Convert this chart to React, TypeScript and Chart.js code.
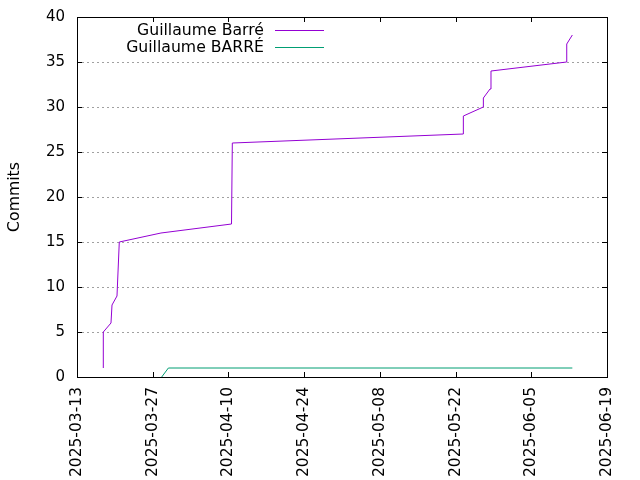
import { Chart, registerables } from "chart.js";
import { useEffect, useRef } from "react";
Chart.register(...registerables);

// commit timeline
const barreDates = [
  "2025-03-17T20:40", "2025-03-17T20:45", "2025-03-19T06:50", "2025-03-19T11:20",
  "2025-03-20T09:30", "2025-03-20T19:40", "2025-03-28T12:45", "2025-04-10T13:40",
  "2025-04-10T17:15", "2025-05-23T10:20", "2025-05-23T10:30", "2025-05-27T03:10",
  "2025-05-27T03:20", "2025-05-28T08:50", "2025-05-28T13:10", "2025-06-11T13:10",
  "2025-06-11T13:20", "2025-06-12T14:10",
];
const barreCommits = [1, 5, 6, 8, 9, 15, 16, 17, 26, 27, 29, 30, 31, 32, 34, 35, 37, 38];

const barreUpperDates = ["2025-03-28T15:50", "2025-03-29T21:30", "2025-06-12T14:10"];
const barreUpperCommits = [0, 1, 1];

const seriesLabels = ["Guillaume Barré", "Guillaume BARRÉ"];
const seriesColors = ["#9400d3", "#009e73"];

const xStart = "2025-03-13";
const xEnd = "2025-06-19";
const xStepDays = 14;
const yMax = 40;
const yStep = 5;

const FONT = "DejaVu Sans";
const toMs = (s: string) => new Date(s + "Z").getTime();
const fmtDate = (v: number) => new Date(v).toISOString().slice(0, 10);

const toPoints = (dates: string[], vals: number[]) =>
  dates.map((d, i) => ({ x: toMs(d), y: vals[i] }));

// gnuplot-like frame: black border, inward ticks on all four sides
const framePlugin = {
  id: "frame",
  afterDraw(chart: any) {
    const { ctx, chartArea: a, scales } = chart;
    const len = 5;
    ctx.save();
    ctx.strokeStyle = "#000";
    ctx.lineWidth = 1;
    ctx.beginPath();
    scales.x.ticks.forEach((t: any) => {
      const px = Math.round(scales.x.getPixelForValue(t.value)) + 0.5;
      ctx.moveTo(px, a.bottom);
      ctx.lineTo(px, a.bottom - len);
      ctx.moveTo(px, a.top);
      ctx.lineTo(px, a.top + len);
    });
    scales.y.ticks.forEach((t: any) => {
      const py = Math.round(scales.y.getPixelForValue(t.value)) + 0.5;
      ctx.moveTo(a.left, py);
      ctx.lineTo(a.left + len, py);
      ctx.moveTo(a.right, py);
      ctx.lineTo(a.right - len, py);
    });
    ctx.stroke();
    ctx.strokeRect(Math.round(a.left) + 0.5, Math.round(a.top) + 0.5,
      Math.round(a.right - a.left), Math.round(a.bottom - a.top));
    ctx.restore();
  },
};

// key in the top-left: text right aligned, then a line sample
const keyPlugin = {
  id: "key",
  afterDraw(chart: any) {
    const { ctx } = chart;
    ctx.save();
    ctx.font = `15.7px "${FONT}"`;
    ctx.textAlign = "right";
    ctx.textBaseline = "middle";
    chart.data.datasets.forEach((ds: any, i: number) => {
      const y = 30 + i * 17;
      ctx.fillStyle = "#000";
      ctx.fillText(ds.label, 264, y + 1);
      ctx.strokeStyle = ds.borderColor;
      ctx.lineWidth = 1;
      ctx.beginPath();
      ctx.moveTo(275, Math.round(y) + 0.5);
      ctx.lineTo(324, Math.round(y) + 0.5);
      ctx.stroke();
    });
    ctx.restore();
  },
};

function CommitsChart() {
  const chartRef = useRef<HTMLCanvasElement | null>(null);
  const chartInstance = useRef<Chart | null>(null);

  useEffect(() => {
    const ctx = chartRef.current?.getContext("2d");
    if (chartInstance.current) {
      chartInstance.current.destroy();
    }
    if (ctx) {
      chartInstance.current = new Chart(ctx, {
        type: "line",
        data: {
          datasets: [
            {
              label: seriesLabels[0],
              data: toPoints(barreDates, barreCommits),
              borderColor: seriesColors[0],
              borderWidth: 1,
              pointRadius: 0,
              tension: 0,
            },
            {
              label: seriesLabels[1],
              data: toPoints(barreUpperDates, barreUpperCommits),
              borderColor: seriesColors[1],
              borderWidth: 1,
              pointRadius: 0,
              tension: 0,
            },
          ],
        },
        options: {
          responsive: false,
          animation: false,
          layout: { padding: { left: 0, top: 17, right: 33, bottom: 0 } },
          plugins: {
            legend: { display: false },
            tooltip: { enabled: false },
          },
          scales: {
            x: {
              type: "linear",
              min: toMs(xStart),
              max: toMs(xEnd),
              afterBuildTicks: (scale: any) => {
                const ticks = [];
                for (let v = toMs(xStart); v <= toMs(xEnd); v += xStepDays * 86400000) {
                  ticks.push({ value: v });
                }
                scale.ticks = ticks;
              },
              afterFit: (scale: any) => {
                scale.height = 103;
                scale.paddingLeft = 0;
                scale.paddingRight = 0;
              },
              grid: { display: false, drawTicks: false },
              border: { display: false },
              ticks: {
                minRotation: 90,
                maxRotation: 90,
                padding: 10,
                color: "#000",
                font: { family: FONT, size: 15.5 },
                callback: (v: any) => fmtDate(Number(v)),
              },
            },
            y: {
              min: 0,
              max: yMax,
              afterFit: (scale: any) => {
                scale.width = 77;
                scale.paddingTop = 0;
                scale.paddingBottom = 0;
              },
              grid: {
                color: "#a0a0a0",
                drawTicks: false,
                tickBorderDash: [2, 3],
              },
              border: { display: false, dash: [2, 3] },
              ticks: {
                stepSize: yStep,
                padding: 12,
                color: "#000",
                font: { family: FONT, size: 15 },
              },
              title: {
                display: true,
                text: "Commits",
                color: "#000",
                padding: { top: 6, bottom: 0 },
                font: { family: FONT, size: 15.7 },
              },
            },
          },
        },
        plugins: [framePlugin, keyPlugin],
      });
    }
    return () => {
      if (chartInstance.current) {
        chartInstance.current.destroy();
        chartInstance.current = null;
      }
    };
  }, []);

  return (
    <canvas
      ref={chartRef}
      width={640}
      height={480}
      style={{ position: "absolute", left: 0, top: 0, display: "block" }}
    />
  );
}

export default function App() {
  return <CommitsChart />;
}
